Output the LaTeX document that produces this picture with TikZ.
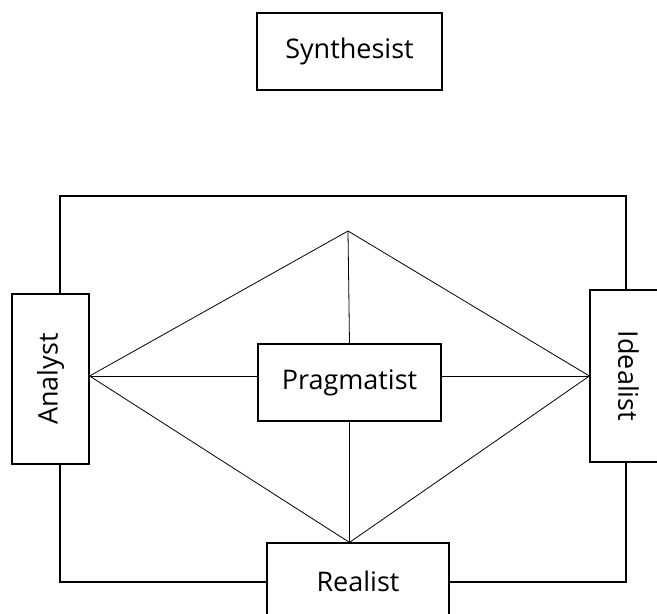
\documentclass[tikz,border=0pt]{standalone}
\usepackage{fontspec}
\setmainfont{Open Sans}
\usetikzlibrary{positioning,calc}

\begin{document}
\begin{tikzpicture}[
  x=1pt, y=-1pt,
  role/.style={draw, line width=1.2pt, fill=white, minimum width=183pt, minimum height=77pt, inner sep=0pt, font=\fontsize{27}{32}\selectfont},
  side/.style={draw, line width=1.2pt, fill=white, minimum width=170pt, minimum height=77pt, inner sep=0pt, font=\fontsize{27}{32}\selectfont},
  link/.style={line width=0.8pt},
  frame/.style={line width=1.8pt}
]
\useasboundingbox (0,0) rectangle (657,614);
\begin{scope}
\clip (0,0) rectangle (657,614);

% Frame corners
\coordinate (tl) at (60,196);
\coordinate (tr) at (626,196);
\coordinate (br) at (626,582);
\coordinate (bl) at (60,582);
\draw[frame] (tl) -- (tr) -- (br) -- (bl) -- cycle;

% Top
\node[role, minimum width=185pt] (syn) at (349.5,51.5) {Synthesist};

% Sides
\node[side, rotate=90] (ana) at (50.5,379) {Analyst};
\node[side, rotate=-90, minimum width=172pt] (ide) at (628.5,376) {Idealist};

% Middle
\node[role] (prag) at (349.5,382.5) {Pragmatist};
\node[role, minimum width=182pt] (real) at (358,581.5) {Realist};

% Diamond
\coordinate (apex) at (348,231);
\coordinate (foot) at (prag.south |- real.north);
\draw[link] (ana.south |- ide.south) -- (apex) -- (ide.south);
\draw[link] (ana.south |- ide.south) -- (foot) -- (ide.south);
\draw[link] (ana.south |- ide.south) -- (prag.west |- ide.south);
\draw[link] (ide.south) -- (prag.east |- ide.south);
\draw[link] (apex) -- (prag.north);
\draw[link] (prag.south) -- (foot);

\end{scope}
\end{tikzpicture}
\end{document}
